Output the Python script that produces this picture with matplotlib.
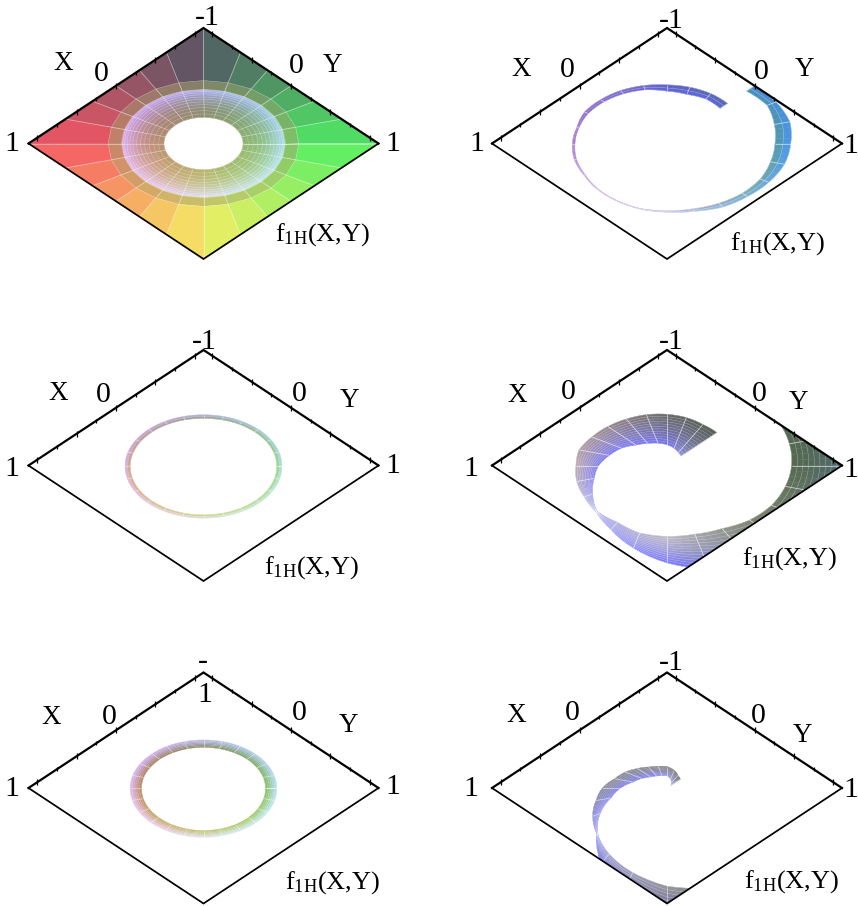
#!/usr/bin/env python3
import numpy as np
import matplotlib
matplotlib.use("Agg")
import matplotlib.pyplot as plt
from matplotlib.collections import LineCollection, PolyCollection
from matplotlib.patches import Polygon

W, H = 858, 906

# radial coordinate rho runs 0 (centre) to 1 (diamond corner); phi in degrees,
# 0 = right corner, 90 = bottom corner, 180 = left corner, 270 = top corner
ring_phi = list(range(0, 361, 15))

# panel 1 (top left): full surface with a hole
p1_hole = 0.226
p1_rim = 0.467
p1_band = 0.545
p1_edge = 1.06

# panel 3 and 5: thin closed rings
p3_in = [.419, .421, .423, .425, .426, .427, .427, .427, .426, .425, .423, .421,
         .419, .417, .415, .413, .411, .409, .407, .409, .411, .413, .415, .417, .419]
p3_out = [.448, .450, .452, .454, .455, .456, .456, .456, .455, .454, .452, .450,
          .448, .447, .445, .443, .441, .440, .439, .440, .441, .443, .445, .447, .448]
p5_in = [.354, .356, .359, .362, .365, .367, .369, .367, .365, .362, .359, .356,
         .354, .354, .353, .353, .352, .352, .352, .352, .352, .353, .353, .354, .354]
p5_out = [.419, .420, .422, .424, .425, .426, .427, .426, .425, .424, .422, .420,
          .419, .418, .418, .417, .417, .416, .416, .416, .417, .417, .418, .418, .419]

# panel 2, 4: spiral ribbons, 315 down to -45
spiral_phi = list(range(315, -46, -15))
p2_in = [.43, .445, .44, .453, .481, .497, .51, .52, .521, .526, .535, .54, .557,
         .57, .583, .583, .585, .596, .608, .615, .612, .617, .635, .661, .642]
p2_out = [.49, .50, .505, .508, .52, .53, .537, .545, .534, .541, .548, .548, .563,
          .575, .589, .595, .608, .636, .65, .672, .695, .707, .727, .719, .70]
p4_in = [.115, .13, .155, .18, .20, .22, .25, .30, .34, .39, .43, .49, .565,
         .567, .605, .614, .615, .63, .668, .69, .70, .712, .724, .74, .74]
p4_out = [.403, .41, .43, .444, .456, .465, .478, .495, .521, .52, .534, .545, .57,
          .64, .74, .844, .93, 1.05, 1.1, 1.1, 1.1, 1.1, 1.1, 1.1, 1.1]

# panel 6: shorter spiral, 315 down to 60
p6_phi = list(range(315, 59, -15))
p6_in = [.03, .05, .08, .107, .11, .12, .135, .165, .20, .265, .33, .44, .56,
         .66, .758, .85, .90, 1.0]
p6_out = [.108, .125, .16, .186, .195, .21, .239, .276, .31, .37, .42, .49, .565,
          .75, .90, 1.1, 1.2, 1.3]

# colours along the ribbons, inner and outer side
p2_stops = [315, 270, 180, 135, 90, 45, 0, -45]
p2_in_rgb = [(90, 100, 215), (95, 100, 225), (150, 100, 200), (180, 130, 215),
             (170, 165, 215), (130, 170, 170), (85, 155, 155), (75, 140, 180)]
p2_out_rgb = [(85, 105, 170), (95, 100, 190), (170, 110, 210), (205, 170, 235),
              (205, 200, 240), (120, 180, 225), (70, 150, 250), (70, 140, 215)]
p4_stops = [315, 270, 225, 180, 135, 90, 45, 0, -45]
p4_in_rgb = [(150, 150, 215), (115, 115, 250), (115, 115, 255), (115, 115, 255),
             (150, 150, 235), (190, 185, 200), (125, 135, 115), (85, 105, 80), (80, 105, 80)]
p4_out_rgb = [(80, 90, 80), (105, 105, 100), (150, 135, 140), (190, 170, 175),
              (170, 170, 240), (120, 120, 255), (85, 95, 165), (75, 105, 130), (70, 100, 130)]
p6_stops = [315, 270, 225, 180, 135, 90, 60]
p6_in_rgb = [(170, 170, 230), (140, 140, 240), (120, 120, 255), (120, 120, 250),
             (170, 170, 240), (150, 150, 155), (115, 120, 105)]
p6_out_rgb = [(105, 105, 105), (120, 120, 120), (130, 130, 135), (140, 140, 145),
              (120, 120, 250), (80, 80, 170), (105, 105, 115)]

# X and Y axis ticks
major_ticks = [-0.9, -0.45, 0, 0.45, 0.9]
minor_ticks = [-0.675, -0.225, 0.225, 0.675]

# diamond centre x, top y, bottom y in pixels
panel_pos = [(203.5, 28, 259), (667, 28, 259),
             (203.5, 350, 581), (667, 350, 581),
             (203.5, 672.5, 903.5), (667, 672.5, 903.5)]

# label text and centre position in pixels, per panel
labels = [
    [("-1", 207, 18), ("X", 63, 63), ("0", 101, 74), ("0", 296, 66), ("Y", 332, 66),
     ("1", 12, 144), ("1", 393, 144), ("F", 323, 235)],
    [("-1", 671, 21), ("X", 521, 69), ("0", 567, 70), ("0", 761, 72), ("Y", 804, 70),
     ("1", 477, 144), ("1", 851, 146), ("F", 778, 244)],
    [("-1", 204, 342), ("X", 58, 393), ("0", 103, 395), ("0", 299, 394), ("Y", 349, 400),
     ("1", 12, 469), ("1", 393, 466), ("F", 312, 568)],
    [("-1", 671, 342), ("X", 517, 395), ("0", 568, 392), ("0", 759, 394), ("Y", 798, 402),
     ("1", 471, 469), ("1", 851, 470), ("F", 790, 559)],
    [("-", 203, 662), ("1", 205, 695), ("X", 51, 718), ("0", 109, 717), ("0", 299, 713),
     ("Y", 348, 726), ("1", 12, 789), ("1", 393, 787), ("F", 333, 883)],
    [("-1", 671, 663), ("X", 516, 715), ("0", 572, 713), ("0", 758, 716), ("Y", 802, 736),
     ("1", 471, 789), ("1", 851, 790), ("F", 792, 882)],
]
FUNC_LABEL = r"$\mathrm{f_{1H}(X{,}Y)}$"

plt.rcParams["font.family"] = "Liberation Serif"
plt.rcParams["mathtext.fontset"] = "custom"
plt.rcParams["mathtext.rm"] = "Liberation Serif"


def to_uv(phi, rho):
    a = np.radians(phi)
    return rho * np.cos(a), rho * np.sin(a)


def xy_of(phi, rho):
    # X grows towards the left corner, Y towards the right corner
    u, v = to_uv(phi, rho)
    return v - u, v + u


def lerp(lo, hi, t):
    return lo + (hi - lo) * np.clip(t, 0, 1)


def surface_rgb(phi, rho, r, g, b, span=1.0):
    # r, g are (low, high) pairs across the X and Y range -span..span
    x, y = xy_of(phi, rho)
    return np.array([lerp(r[0], r[1], (x + span) / (2 * span)),
                     lerp(g[0], g[1], (y + span) / (2 * span)), b]) / 255


def draw_band(ax, phi, r_in, r_out, color_fn, levels, clip=None, spoke_alpha=0.6,
              level_alpha=0.35, power=1.0, sub=4):
    phi = np.asarray(phi, float)
    idx = np.arange(len(phi))
    fine = np.linspace(0, len(phi) - 1, (len(phi) - 1) * sub + 1)
    f_phi = np.interp(fine, idx, phi)
    f_in = np.interp(fine, idx, r_in)
    f_out = np.interp(fine, idx, r_out)
    ts = 1 - (1 - np.linspace(0, 1, levels + 1)) ** power

    polys, cols = [], []
    for i in range(len(fine) - 1):
        for j in range(levels):
            pts = []
            for k, t in ((i, ts[j]), (i + 1, ts[j]), (i + 1, ts[j + 1]), (i, ts[j + 1])):
                pts.append(to_uv(f_phi[k], lerp(f_in[k], f_out[k], t)))
            polys.append(pts)
            tm = 0.5 * (ts[j] + ts[j + 1])
            pm = 0.5 * (f_phi[i] + f_phi[i + 1])
            rm = lerp(0.5 * (f_in[i] + f_in[i + 1]), 0.5 * (f_out[i] + f_out[i + 1]), tm)
            cols.append(color_fn(pm, rm, tm))
    pc = PolyCollection(polys, facecolors=cols, edgecolors="face", linewidths=0.3, zorder=2)
    ax.add_collection(pc)

    spokes = [[to_uv(p, a), to_uv(p, b)] for p, a, b in zip(phi, r_in, r_out)]
    rings = []
    for t in ts:
        rings.append(list(zip(*to_uv(f_phi, f_in + (f_out - f_in) * t))))
    lc1 = LineCollection(spokes, colors="white", linewidths=0.6, alpha=spoke_alpha, zorder=3)
    lc2 = LineCollection(rings, colors="white", linewidths=0.4, alpha=level_alpha, zorder=3)
    ax.add_collection(lc1)
    ax.add_collection(lc2)
    if clip is not None:
        for art in (pc, lc1, lc2):
            art.set_clip_path(clip)


def stops_fn(stops, in_rgb, out_rgb, gamma=1.0):
    s = -np.asarray(stops, float)
    a = np.asarray(in_rgb, float)
    b = np.asarray(out_rgb, float)

    def fn(phi, rho, t):
        ci = np.array([np.interp(-phi, s, a[:, c]) for c in range(3)])
        co = np.array([np.interp(-phi, s, b[:, c]) for c in range(3)])
        # blue stays near the thin edge on both sides of the pinch
        tt = t ** gamma if phi > 135 else t ** (1 / gamma)
        return (ci + (co - ci) * tt) / 255
    return fn


def ring_fn(in_r, in_g, in_b, out_r, out_g, out_b, span):
    def fn(phi, rho, t):
        return (1 - t) * surface_rgb(phi, rho, in_r, in_g, in_b, span) + \
            t * surface_rgb(phi, rho, out_r, out_g, out_b, span)
    return fn


BASE_R, BASE_G, BASE_B = (80, 245), (85, 238), 100


def hole_fn(phi, rho, t):
    base = surface_rgb(phi, rho, BASE_R, BASE_G, BASE_B + 10)
    rim = surface_rgb(phi, rho, (165, 230), (165, 230), 248, span=0.66)
    return (1 - t ** 2.0) * base + t ** 2.0 * rim


def band_fn(phi, rho, t):
    base = surface_rgb(phi, rho, BASE_R, BASE_G, BASE_B)
    return 0.8 * base + 0.2 * np.array([170, 170, 120]) / 255


def outer_fn(phi, rho, t):
    return surface_rgb(phi, rho, BASE_R, BASE_G, BASE_B, span=0.9)


def setup_panel(fig, pos):
    cx, top, bottom = pos
    half = 175
    ax = fig.add_axes([(cx - half) / W, 1 - bottom / H, 2 * half / W, (bottom - top) / H])
    ax.set_xlim(-1, 1)
    ax.set_ylim(1, -1)
    ax.axis("off")
    return ax


def draw_frame(ax):
    clip = Polygon([(1, 0), (0, 1), (-1, 0), (0, -1)], closed=True, transform=ax.transData)
    ax.plot([1, 0, -1], [0, 1, 0], color="black", lw=1.25, clip_on=False, zorder=5,
            solid_joinstyle="miter")
    ax.plot([-1, 0, 1], [0, -1, 0], color="black", lw=1.6, clip_on=False, zorder=5,
            solid_joinstyle="miter")
    for ticks, size in ((major_ticks, 4.0), (minor_ticks, 2.8)):
        t = np.asarray(ticks, float)
        # X axis on the upper left edge, Y axis on the upper right edge
        ax.plot(-(t + 1) / 2, (t - 1) / 2, ls="none", marker="|", ms=size, mew=0.9,
                color="black", clip_on=False, zorder=5)
        ax.plot((t + 1) / 2, (t - 1) / 2, ls="none", marker="|", ms=size, mew=0.9,
                color="black", clip_on=False, zorder=5)
    return clip


def main():
    fig = plt.figure(figsize=(W / 100, H / 100), dpi=100, facecolor="white")
    axes = [setup_panel(fig, p) for p in panel_pos]
    clips = [draw_frame(ax) for ax in axes]

    n = len(ring_phi)
    # panel 1
    draw_band(axes[0], ring_phi, [p1_hole] * n, [p1_rim] * n, hole_fn, 12, clips[0],
              spoke_alpha=0.4, level_alpha=0.3, power=1.5)
    draw_band(axes[0], ring_phi, [p1_rim] * n, [p1_band] * n, band_fn, 1, clips[0],
              spoke_alpha=0.5, level_alpha=0.4, sub=1)
    draw_band(axes[0], ring_phi, [p1_band] * n, [p1_edge] * n, outer_fn, 1, clips[0],
              spoke_alpha=0.45, level_alpha=0.0, sub=1)
    # panel 2
    draw_band(axes[1], spiral_phi, p2_in, p2_out, stops_fn(p2_stops, p2_in_rgb, p2_out_rgb),
              2, clips[1], spoke_alpha=0.6, level_alpha=0.35)
    # panel 3
    draw_band(axes[2], ring_phi, p3_in, p3_out,
              ring_fn((140, 220), (150, 215), 115, (170, 225), (170, 235), 240, 0.6),
              2, clips[2], spoke_alpha=0.5, level_alpha=0.2)
    # panel 4
    draw_band(axes[3], spiral_phi, p4_in, p4_out,
              stops_fn(p4_stops, p4_in_rgb, p4_out_rgb, gamma=0.7),
              12, clips[3], spoke_alpha=0.65, level_alpha=0.3)
    # panel 5
    draw_band(axes[4], ring_phi, p5_in, p5_out,
              ring_fn((110, 200), (115, 205), 85, (175, 235), (175, 235), 245, 0.6),
              6, clips[4], spoke_alpha=0.5, level_alpha=0.25)
    # panel 6
    draw_band(axes[5], p6_phi, p6_in, p6_out,
              stops_fn(p6_stops, p6_in_rgb, p6_out_rgb, gamma=0.7),
              8, clips[5], spoke_alpha=0.55, level_alpha=0.3)

    for panel in labels:
        for text, x, y in panel:
            s = FUNC_LABEL if text == "F" else text
            if text == "F":
                size = 19
            elif text in ("X", "Y"):
                size = 19.5
            else:
                size = 21.5
            fig.text(x / W, 1 - y / H, s, ha="center", va="center", fontsize=size, color="black")

    fig.savefig("out.png", dpi=100)


if __name__ == "__main__":
    main()
